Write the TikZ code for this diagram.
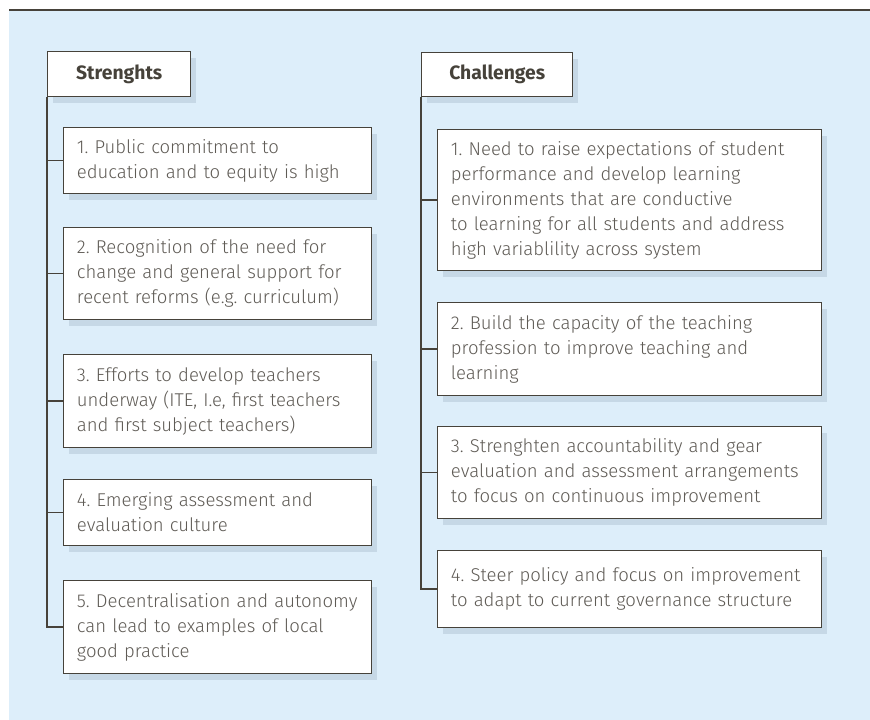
\documentclass[tikz,border=0pt]{standalone}
\usepackage{fontspec}
\setmainfont{Fira Sans}[UprightFont=* Light, BoldFont=* Bold]
\frenchspacing
\usetikzlibrary{shadows}
\definecolor{panelblue}{RGB}{221,238,250}
\definecolor{framegray}{RGB}{70,66,58}
\definecolor{textgray}{RGB}{95,91,85}
\definecolor{shadowblue}{RGB}{120,140,160}
\tikzset{
  boxshadow/.style={drop shadow={shadow xshift=4pt, shadow yshift=-5pt, fill=shadowblue, opacity=0.22}},
  headbox/.style={draw=framegray, line width=1.1pt, fill=white, anchor=north west, inner sep=0pt, text=framegray, font=\bfseries\fontsize{14.5}{17}\selectfont, boxshadow},
  itembox/.style={draw=framegray, line width=0.9pt, fill=white, anchor=north west, align=left, inner xsep=10pt, inner ysep=0pt, text=textgray, font=\fontsize{13.9}{18.75}\selectfont, boxshadow},
  trunk/.style={framegray, line width=1.1pt}
}
\begin{document}
\begin{tikzpicture}[x=0.75pt, y=-0.75pt]
  \useasboundingbox (0,0) rectangle (870,720);
  \fill[panelblue] (9,11) rectangle (870,720);
  \draw[framegray, line width=1.1pt] (9,10) -- (870,10);

  % strengths column
  \node[headbox, minimum width=107.25pt, minimum height=33.75pt] (sh) at (47,51) {Strenghts};
  \node[itembox, text width=210.75pt, minimum height=49.5pt] (s1) at (63,127)
    {1. Public commitment to\\education and to equity is high};
  \node[itembox, text width=210.75pt, minimum height=69pt] (s2) at (63,227)
    {2. Recognition of the need for\\change and general support for\\recent reforms (e.g. curriculum)};
  \node[itembox, text width=210.75pt, minimum height=69.75pt] (s3) at (63,354)
    {3. Efforts to develop teachers\\underway (ITE, I.e, first teachers\\and first subject teachers)};
  \node[itembox, text width=210.75pt, minimum height=49.5pt] (s4) at (63,479)
    {4. Emerging assessment and\\evaluation culture};
  \node[itembox, text width=210.75pt, minimum height=69.75pt] (s5) at (63,580)
    {5. Decentralisation and autonomy\\can lead to examples of local\\good practice};
  \draw[trunk] (sh.south west) |- (s5.west);
  \draw[trunk] (sh.south west |- s1.west) -- (s1.west);
  \draw[trunk] (sh.south west |- s2.west) -- (s2.west);
  \draw[trunk] (sh.south west |- s3.west) -- (s3.west);
  \draw[trunk] (sh.south west |- s4.west) -- (s4.west);

  % challenges column
  \node[headbox, minimum width=113.25pt, minimum height=33pt] (ch) at (421,52) {Challenges};
  \node[itembox, text width=267.75pt, minimum height=105.75pt] (c1) at (437,129)
    {1. Need to raise expectations of student\\performance and develop learning\\environments that are conductive\\to learning for all students and address\\high variablility across system};
  \node[itembox, text width=267.75pt, minimum height=69.75pt] (c2) at (437,302)
    {2. Build the capacity of the teaching\\profession to improve teaching and\\learning};
  \node[itembox, text width=267.75pt, minimum height=69pt] (c3) at (437,426)
    {3. Strenghten accountability and gear\\evaluation and assessment arrangements\\to focus on continuous improvement};
  \node[itembox, text width=267.75pt, minimum height=57.75pt] (c4) at (437,550)
    {4. Steer policy and focus on improvement\\to adapt to current governance structure};
  \draw[trunk] (ch.south west) |- (c4.west);
  \draw[trunk] (ch.south west |- c1.west) -- (c1.west);
  \draw[trunk] (ch.south west |- c2.west) -- (c2.west);
  \draw[trunk] (ch.south west |- c3.west) -- (c3.west);
\end{tikzpicture}
\end{document}
